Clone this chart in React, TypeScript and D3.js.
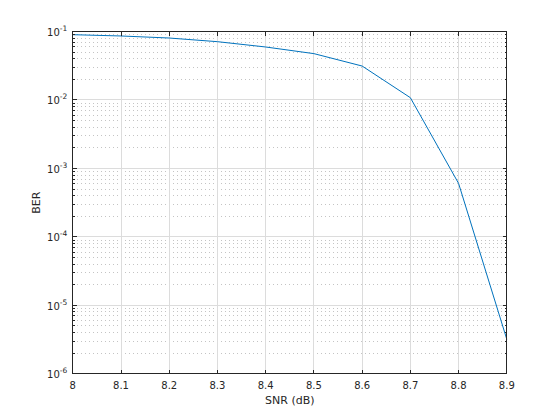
import React from "react";
import * as d3 from "d3";

const snr = [8.0, 8.1, 8.2, 8.3, 8.4, 8.5, 8.6, 8.7, 8.8, 8.9];
const ber = [0.0898, 0.086, 0.0803, 0.071, 0.0594, 0.0475, 0.0313, 0.0108, 6.05e-4, 3.19e-6];
const xTicks = [8.0, 8.1, 8.2, 8.3, 8.4, 8.5, 8.6, 8.7, 8.8, 8.9];
const xTickLabels = ["8", "8.1", "8.2", "8.3", "8.4", "8.5", "8.6", "8.7", "8.8", "8.9"];
const yExponents = [-1, -2, -3, -4, -5, -6];
const xLabel = "SNR (dB)";
const yLabel = "BER";

const W = 560;
const H = 420;
const L = 72.8;
const R = 506.8;
const T = 31.5;
const B = 373.8;

export default function App() {
  const x = d3.scaleLinear().domain([8, 8.9]).range([L, R]);
  const y = d3.scaleLog().domain([1e-6, 1e-1]).range([B, T]);

  const minor: number[] = [];
  for (let e = -6; e < -1; e++) {
    for (let m = 2; m <= 9; m++) minor.push(m * Math.pow(10, e));
  }

  const line = d3
    .line<number>()
    .x((_, i) => x(snr[i]))
    .y((d) => y(d));

  const axisColor = "#262626";
  const font = "'DejaVu Sans', sans-serif";

  return (
    <div style={{ position: "fixed", left: 0, top: 0 }}>
      <svg width={W} height={H} style={{ display: "block", background: "#fff" }}>
        {/* minor grid */}
        {minor.map((v, i) => (
          <line
            key={"mg" + i}
            x1={L}
            x2={R}
            y1={y(v)}
            y2={y(v)}
            stroke="#c4c4c4"
            strokeWidth={1}
            strokeDasharray="1 3"
            shapeRendering="crispEdges"
          />
        ))}
        {/* major grid */}
        {yExponents.map((e) => (
          <line
            key={"yg" + e}
            x1={L}
            x2={R}
            y1={y(Math.pow(10, e))}
            y2={y(Math.pow(10, e))}
            stroke="#dcdcdc"
            strokeWidth={1}
            shapeRendering="crispEdges"
          />
        ))}
        {xTicks.map((t) => (
          <line
            key={"xg" + t}
            x1={x(t)}
            x2={x(t)}
            y1={T}
            y2={B}
            stroke="#dcdcdc"
            strokeWidth={1}
            shapeRendering="crispEdges"
          />
        ))}
        {/* data line */}
        <path d={line(ber) || ""} fill="none" stroke="#0072BD" strokeWidth={1} />
        {/* box */}
        <rect
          x={L}
          y={T}
          width={R - L}
          height={B - T}
          fill="none"
          stroke={axisColor}
          strokeWidth={1}
          shapeRendering="crispEdges"
        />
        {/* x ticks */}
        {xTicks.map((t) => (
          <g key={"xt" + t}>
            <line x1={x(t)} x2={x(t)} y1={B} y2={B - 4.3} stroke={axisColor} shapeRendering="crispEdges" />
            <line x1={x(t)} x2={x(t)} y1={T} y2={T + 4.3} stroke={axisColor} shapeRendering="crispEdges" />
          </g>
        ))}
        {/* y ticks */}
        {yExponents.map((e) => (
          <g key={"yt" + e}>
            <line x1={L} x2={L + 4.3} y1={y(Math.pow(10, e))} y2={y(Math.pow(10, e))} stroke={axisColor} shapeRendering="crispEdges" />
            <line x1={R} x2={R - 4.3} y1={y(Math.pow(10, e))} y2={y(Math.pow(10, e))} stroke={axisColor} shapeRendering="crispEdges" />
          </g>
        ))}
        {minor.map((v, i) => (
          <g key={"ymt" + i}>
            <line x1={L} x2={L + 2.2} y1={y(v)} y2={y(v)} stroke={axisColor} shapeRendering="crispEdges" />
            <line x1={R} x2={R - 2.2} y1={y(v)} y2={y(v)} stroke={axisColor} shapeRendering="crispEdges" />
          </g>
        ))}
        {/* x tick labels */}
        {xTicks.map((t, i) => (
          <text
            key={"xl" + t}
            x={x(t)}
            y={B + 15.5}
            textAnchor="middle"
            fontFamily={font}
            fontSize={10}
            fill={axisColor}
          >
            {xTickLabels[i]}
          </text>
        ))}
        {/* y tick labels */}
        {yExponents.map((e) => (
          <text
            key={"yl" + e}
            x={L - 5.5}
            y={y(Math.pow(10, e)) + 4.5}
            textAnchor="end"
            fontFamily={font}
            fontSize={10}
            fill={axisColor}
          >
            10
            <tspan fontSize={7.5} dy={-5}>
              {String(e)}
            </tspan>
          </text>
        ))}
        {/* axis labels */}
        <text
          x={(L + R) / 2}
          y={404}
          textAnchor="middle"
          fontFamily={font}
          fontSize={11}
          fill={axisColor}
        >
          {xLabel}
        </text>
        <text
          transform={`translate(39.5, ${(T + B) / 2}) rotate(-90)`}
          textAnchor="middle"
          fontFamily={font}
          fontSize={11}
          fill={axisColor}
        >
          {yLabel}
        </text>
      </svg>
    </div>
  );
}
